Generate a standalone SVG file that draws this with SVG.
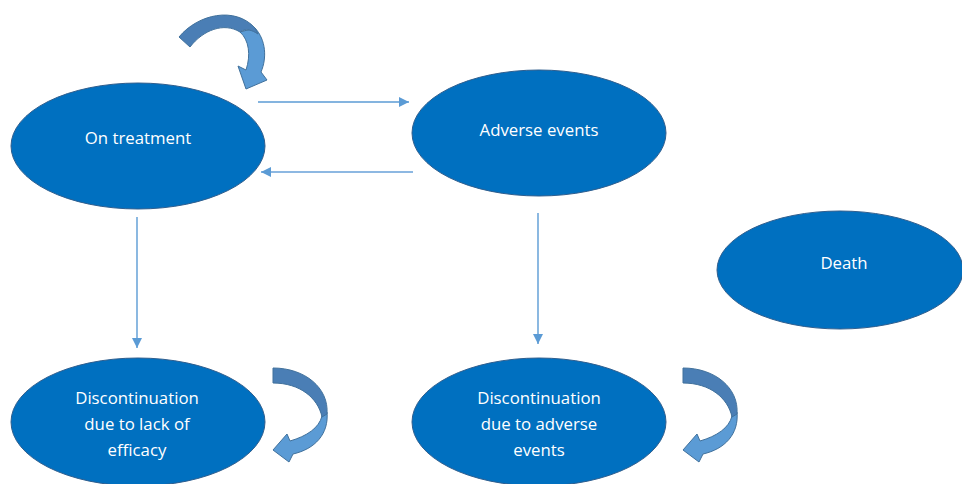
<svg xmlns="http://www.w3.org/2000/svg" width="962" height="484" viewBox="0 0 962 484">
<defs>
<style>
.node ellipse{fill:#0070C0;stroke:#2F5E8E;stroke-width:1}
.node text{fill:#ffffff;font-family:"Open Sans","Liberation Sans",sans-serif;font-size:16.8px;text-anchor:middle}
.conn line{stroke:#5B9BD5;stroke-width:1.4;fill:none}
.light{fill:#5B9BD5;stroke:#41719C;stroke-width:1}
.dark{fill:#4A7EB5;stroke:#41719C;stroke-width:1}
</style>
<marker id="ah" viewBox="0 0 10 10" refX="10" refY="5" markerWidth="10" markerHeight="10" markerUnits="userSpaceOnUse" orient="auto">
<path d="M0,0 L10,5 L0,10 Z" fill="#5B9BD5"/>
</marker>
<g id="curvedLeft">
<path class="light" d="M327,412 C329,434 315,449 293,454 L289,462 L273,450 L287,434 L290,441 C307,436 319,428 322,416 Z"/>
<path class="dark" d="M273,368 C305,368 329,388 327,414 L322,417 C318,398 300,383 273,383 Z"/>
</g>
</defs>
<g id="connectors" class="conn">
<line x1="258" y1="102" x2="409" y2="102" marker-end="url(#ah)"/>
<line x1="413" y1="172" x2="261" y2="172" marker-end="url(#ah)" style="stroke:#8DB8E2;stroke-width:1.8"/>
<line x1="137" y1="217" x2="137" y2="348" marker-end="url(#ah)"/>
<line x1="538" y1="213" x2="538" y2="344" marker-end="url(#ah)"/>
</g>
<g id="loop-top">
<path class="light" d="M255,28 C266,40 267,58 261,72 L267,80 L246,89 L238,66 L246,70 C251,55 249,40 240,32 Z"/>
<path class="dark" d="M179,37 C198,14 235,6 255,28 L258,34 C252,30 246,28 240,32 C224,22 203,30 190,47 Z"/>
</g>
<g id="loop-efficacy"><use href="#curvedLeft"/></g>
<g id="loop-adverse"><use href="#curvedLeft" transform="translate(410,0)"/></g>
<g id="on-treatment" class="node">
<ellipse cx="138" cy="146" rx="127" ry="63"/>
<text x="138" y="144">On treatment</text>
</g>
<g id="adverse-events" class="node">
<ellipse cx="539" cy="133" rx="127" ry="63"/>
<text x="539" y="136">Adverse events</text>
</g>
<g id="death" class="node">
<ellipse cx="840" cy="270" rx="123" ry="59"/>
<text x="844" y="269">Death</text>
</g>
<g id="disc-efficacy" class="node">
<ellipse cx="138" cy="422" rx="127" ry="64"/>
<text x="137" y="404">Discontinuation</text>
<text x="137" y="430">due to lack of</text>
<text x="137" y="456">efficacy</text>
</g>
<g id="disc-adverse" class="node">
<ellipse cx="539" cy="422" rx="127" ry="64"/>
<text x="539" y="404">Discontinuation</text>
<text x="539" y="430">due to adverse</text>
<text x="539" y="456">events</text>
</g>
</svg>
